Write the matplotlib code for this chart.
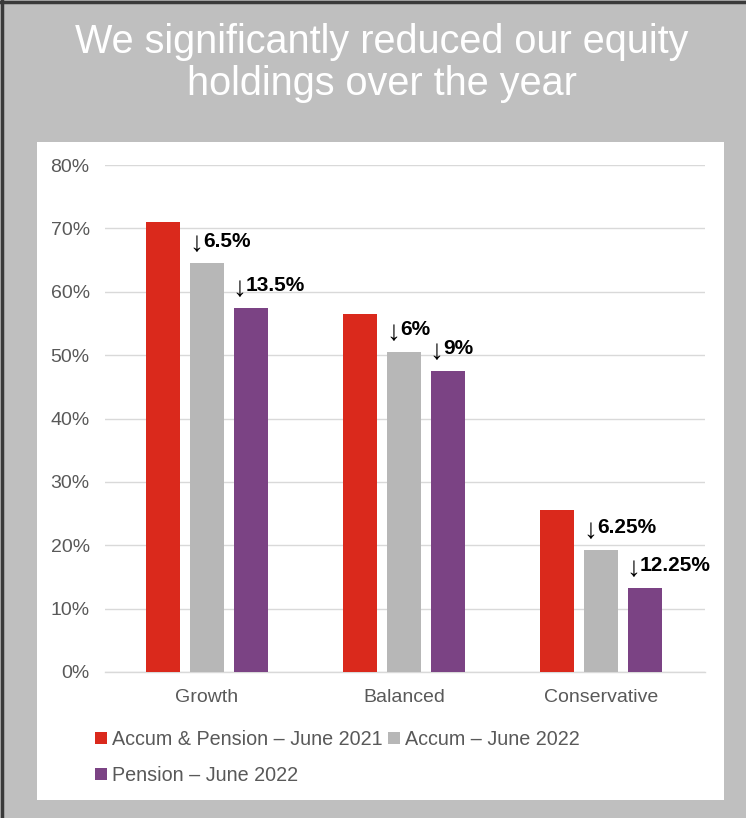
import matplotlib
matplotlib.use("Agg")
import matplotlib.pyplot as plt
from matplotlib.patches import Rectangle
from matplotlib.lines import Line2D
from matplotlib.transforms import offset_copy
import numpy as np

plt.rcParams['font.family'] = ['Liberation Sans', 'DejaVu Sans']

categories = ["Growth", "Balanced", "Conservative"]
series_names = ["Accum & Pension – June 2021", "Accum – June 2022", "Pension – June 2022"]
accum_pension_2021 = [71, 56.5, 25.5]
accum_2022 = [64.5, 50.5, 19.25]
pension_2022 = [57.5, 47.5, 13.25]
accum_labels = ["6.5%", "6%", "6.25%"]
pension_labels = ["13.5%", "9%", "12.25%"]
yticks = [0, 10, 20, 30, 40, 50, 60, 70, 80]
title = "We significantly reduced our equity\nholdings over the year"

colors = ["#DA291C", "#B7B7B7", "#7B4384"]

W, H = 746, 818
fig = plt.figure(figsize=(W / 100, H / 100), dpi=100)
fig.patch.set_facecolor("#BFBFBF")

# white panel
fig.add_artist(Rectangle((37 / W, 1 - 800 / H), (724 - 37) / W, (800 - 142) / H,
                         transform=fig.transFigure, facecolor="white", edgecolor="none", zorder=0))
# dark border top/left
fig.add_artist(Line2D([0, 1], [1 - 1.5 / H, 1 - 1.5 / H], transform=fig.transFigure, color="#3A3A3A", lw=2.5))
fig.add_artist(Line2D([1.5 / W, 1.5 / W], [0, 1], transform=fig.transFigure, color="#3A3A3A", lw=2.5))

fig.text(382 / W, 1 - 63 / H, title, ha="center", va="center", color="white",
         fontsize=28.5, linespacing=1.12)

ax = fig.add_axes([105 / W, 1 - 672 / H, 600 / W, (672 - 165) / H])
ax.set_facecolor("none")

x = np.arange(len(categories))
bw = 0.173
off = 0.223
series = [accum_pension_2021, accum_2022, pension_2022]
handles = []
for i, (vals, c, name) in enumerate(zip(series, colors, series_names)):
    b = ax.bar(x + (i - 1) * off, vals, width=bw, color=c, zorder=3, label=name)
    handles.append(b)


def label(xl, v, txt):
    ax.text(xl, v + 3.0, "↓", ha="left", va="center", fontsize=20,
            color="black", family=["Liberation Sans"], fontweight="normal")
    tr = offset_copy(ax.transData, fig=fig, x=10.2, y=0, units="points")
    ax.text(xl, v + 3.5, txt, ha="left", va="center", fontsize=15,
            fontweight="bold", color="black", transform=tr)


for xi, v, lab in zip(x, accum_2022, accum_labels):
    label(xi - bw / 2 - 0.005, v, lab)
for xi, v, lab in zip(x, pension_2022, pension_labels):
    label(xi + off - bw / 2 - 0.01, v, lab)

ax.set_ylim(0, 80)
ax.set_xlim(-0.518, 2.528)
ax.set_yticks(yticks)
ax.set_yticklabels([f"{t}%" for t in yticks])
ax.set_xticks(x)
ax.set_xticklabels(categories)
ax.tick_params(axis="both", length=0, labelsize=14, labelcolor="#595959")
ax.tick_params(axis="y", pad=11)
ax.tick_params(axis="x", pad=12)
ax.grid(axis="y", color="#D9D9D9", lw=1, zorder=0)
for s in ["top", "right", "left"]:
    ax.spines[s].set_visible(False)
ax.spines["bottom"].set_color("#D9D9D9")
ax.spines["bottom"].set_linewidth(1)

leg = fig.legend([handles[0], handles[2], handles[1]],
                 [series_names[0], series_names[2], series_names[1]],
                 ncol=2, loc="upper left", bbox_to_anchor=(95 / W, 1 - 730 / H),
                 frameon=False, fontsize=14.2, handlelength=0.6, handleheight=0.6,
                 handletextpad=0.25, columnspacing=0.3, labelspacing=0.85,
                 borderaxespad=0, borderpad=0)
for t in leg.get_texts():
    t.set_color("#595959")

fig.savefig("out.png", dpi=100, facecolor=fig.get_facecolor())
